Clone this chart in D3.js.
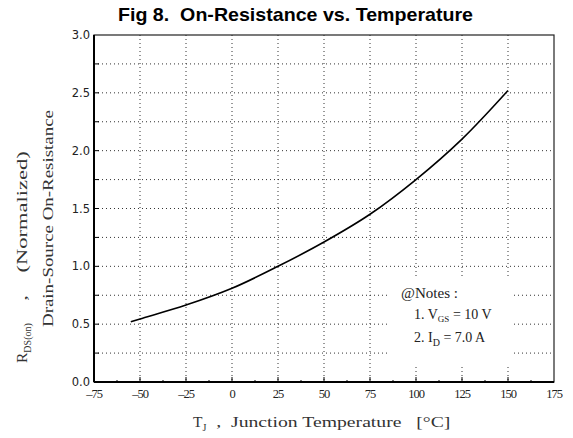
<!DOCTYPE html>
<html>
<head>
<meta charset="utf-8">
<script src="https://cdn.jsdelivr.net/npm/d3@7"></script>
<style>
  body { margin: 0; background: #fff; }
  svg { display: block; }
  text { white-space: pre; }
</style>
</head>
<body>
<svg id="chart" width="573" height="438"></svg>
<script>
// curve
var tempC = [-55, -50, -25, 0, 25, 50, 75, 100, 125, 150];
var rdsNorm = [0.52, 0.545, 0.665, 0.81, 1.0, 1.21, 1.45, 1.75, 2.10, 2.52];

var xTickValues = [-75, -50, -25, 0, 25, 50, 75, 100, 125, 150, 175];
var yTickValues = [0.0, 0.5, 1.0, 1.5, 2.0, 2.5, 3.0];
var yGridValues = [0.25, 0.5, 0.75, 1.0, 1.25, 1.5, 1.75, 2.0, 2.25, 2.5, 2.75];

var margin = {left: 94, right: 19, top: 35, bottom: 56};
var width = 573, height = 438;

var svg = d3.select('#chart');

var x = d3.scaleLinear().domain([-75, 175]).range([margin.left, width - margin.right]);
var y = d3.scaleLinear().domain([0, 3]).range([height - margin.bottom, margin.top]);

// title
svg.append('text')
  .attr('x', 118).attr('y', 21)
  .attr('textLength', 355)
  .attr('lengthAdjust', 'spacingAndGlyphs')
  .style('font-family', 'Liberation Sans, Arial, sans-serif')
  .style('font-weight', 'bold')
  .style('font-size', '19px')
  .text('Fig 8.  On-Resistance vs. Temperature');

// grid
var grid = svg.append('g');
grid.selectAll('.vgrid')
  .data(xTickValues.slice(1, -1))
  .enter().append('line')
    .attr('x1', (d) => x(d)).attr('x2', (d) => x(d))
    .attr('y1', y(3)).attr('y2', y(0))
    .attr('stroke', '#333').attr('stroke-width', 1)
    .attr('stroke-dasharray', '1,3');
grid.selectAll('.hgrid')
  .data(yGridValues)
  .enter().append('line')
    .attr('x1', x(-75)).attr('x2', x(175))
    .attr('y1', (d) => y(d)).attr('y2', (d) => y(d))
    .attr('stroke', '#333').attr('stroke-width', 1)
    .attr('stroke-dasharray', '1,3');

// inward tick marks
grid.selectAll('.xtick')
  .data(xTickValues.slice(1, -1))
  .enter().append('line')
    .attr('x1', (d) => x(d)).attr('x2', (d) => x(d))
    .attr('y1', y(0)).attr('y2', y(0) - 5)
    .attr('stroke', '#000');
grid.selectAll('.xminor')
  .data(d3.range(-62.5, 175, 25))
  .enter().append('line')
    .attr('x1', (d) => x(d)).attr('x2', (d) => x(d))
    .attr('y1', y(0)).attr('y2', y(0) - 2)
    .attr('stroke', '#000');
grid.selectAll('.ytick')
  .data(yGridValues)
  .enter().append('line')
    .attr('x1', x(-75)).attr('x2', x(-75) + 5)
    .attr('y1', (d) => y(d)).attr('y2', (d) => y(d))
    .attr('stroke', '#000');

// curve
var line = d3.line()
  .x((d, i) => x(tempC[i]))
  .y((d) => y(d))
  .curve(d3.curveCatmullRom);

svg.append('path')
  .datum(rdsNorm)
  .attr('d', line)
  .attr('fill', 'none')
  .attr('stroke', '#000')
  .attr('stroke-width', 1.6);

// notes box
svg.append('rect')
  .attr('x', 390).attr('y', 276)
  .attr('width', 122).attr('height', 89)
  .attr('fill', '#fff');

var notes = svg.append('g')
  .style('font-family', 'Liberation Serif, serif')
  .style('font-size', '14px')
  .style('fill', '#222');
notes.append('text').attr('x', 401).attr('y', 298)
  .attr('textLength', 57).attr('lengthAdjust', 'spacingAndGlyphs')
  .text('@Notes :');
var n1 = notes.append('text').attr('x', 414).attr('y', 319);
n1.append('tspan').text('1. V');
n1.append('tspan').attr('dy', 3).style('font-size', '9px').text('GS');
n1.append('tspan').attr('dy', -3).text(' = 10 V');
var n2 = notes.append('text').attr('x', 414).attr('y', 342);
n2.append('tspan').text('2. I');
n2.append('tspan').attr('dy', 4).style('font-size', '10px').text('D');
n2.append('tspan').attr('dy', -4).text(' = 7.0 A');

// frame
svg.append('rect')
  .attr('x', x(-75)).attr('y', y(3))
  .attr('width', x(175) - x(-75)).attr('height', y(0) - y(3))
  .attr('fill', 'none').attr('stroke', '#222').attr('stroke-width', 1.2);
svg.append('line')
  .attr('x1', x(-75)).attr('x2', x(-75)).attr('y1', y(3)).attr('y2', y(0))
  .attr('stroke', '#000').attr('stroke-width', 2);
svg.append('line')
  .attr('x1', x(-75)).attr('x2', x(175)).attr('y1', y(0)).attr('y2', y(0))
  .attr('stroke', '#000').attr('stroke-width', 2);

// tick labels
svg.append('g').selectAll('text')
  .data(yTickValues)
  .enter().append('text')
    .attr('x', x(-75) - 4).attr('y', (d) => y(d) + 4)
    .attr('text-anchor', 'end')
    .style('font-family', 'DejaVu Sans, sans-serif')
    .style('font-size', '11.5px')
    .style('fill', '#222')
    .text((d) => d3.format('.1f')(d));

svg.append('g').selectAll('text')
  .data(xTickValues)
  .enter().append('text')
    .attr('x', (d) => x(d)).attr('y', y(0) + 16)
    .attr('text-anchor', 'middle')
    .style('font-family', 'Liberation Serif, serif')
    .style('font-size', '12.5px')
    .style('letter-spacing', '-1px')
    .style('fill', '#222')
    .text((d) => d < 0 ? '\u2013' + Math.abs(d) : d);

// axis titles
var xt = svg.append('text')
  .attr('x', 193).attr('y', 427)
  .style('font-family', 'Liberation Serif, serif')
  .style('font-size', '15.5px')
  .style('fill', '#333');
xt.append('tspan').text('T');
xt.append('tspan').attr('dy', 4).style('font-size', '10px').text('J');
xt.append('tspan').attr('dy', -4)
  .attr('textLength', 244).attr('lengthAdjust', 'spacingAndGlyphs')
  .text('  ,  Junction Temperature   [\u00B0C]');

var yt1 = svg.append('text')
  .attr('transform', 'translate(27,363) rotate(-90)')
  .style('font-family', 'Liberation Serif, serif')
  .style('font-size', '15.5px')
  .style('fill', '#333');
yt1.append('tspan').text('R');
yt1.append('tspan').attr('dy', 4).style('font-size', '10px').text('DS(on)');
yt1.append('tspan').attr('dy', -4)
  .attr('textLength', 172).attr('lengthAdjust', 'spacingAndGlyphs')
  .text('    ,    (Normalized)');

svg.append('text')
  .attr('transform', 'translate(53,327) rotate(-90)')
  .attr('textLength', 217)
  .attr('lengthAdjust', 'spacingAndGlyphs')
  .style('font-family', 'Liberation Serif, serif')
  .style('font-size', '15.5px')
  .style('fill', '#333')
  .text('Drain-Source On-Resistance');
</script>
</body>
</html>
